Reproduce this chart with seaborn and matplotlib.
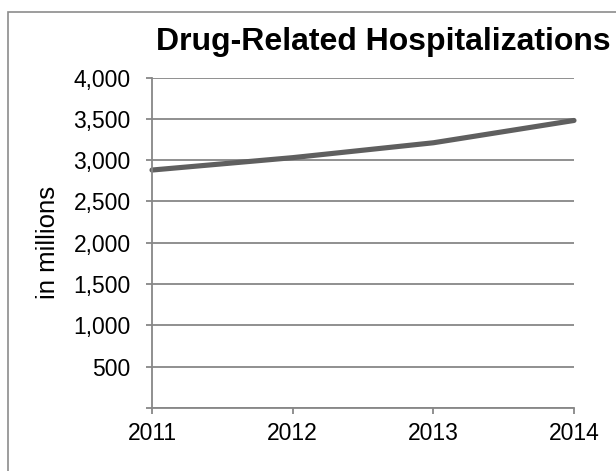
import matplotlib
matplotlib.use("Agg")
import matplotlib.pyplot as plt
import matplotlib.patches as mpatches
from matplotlib.ticker import FuncFormatter
import seaborn as sns
import pandas as pd

years = [2011, 2012, 2013, 2014]
hospitalizations = [2880, 3030, 3210, 3480]
yticks = [0, 500, 1000, 1500, 2000, 2500, 3000, 3500, 4000]

sns.set_theme(style="white")
plt.rcParams['font.family'] = ['Liberation Sans', 'DejaVu Sans']

df = pd.DataFrame({"year": years, "value": hospitalizations})

fig = plt.figure(figsize=(6.16, 4.71), dpi=100)
ax = fig.add_axes([152/616, 1-408/471, (574-152)/616, (408-77.5)/471])

sns.lineplot(data=df, x="year", y="value", ax=ax, color="#5f5f5f",
             linewidth=3.7, solid_capstyle="round")
for ln in ax.get_lines():
    ln.set_clip_on(False)

ax.set_xlim(2011, 2014)
ax.set_ylim(0, 4000)
ax.set_xticks(years)
ax.set_xticklabels([str(y) for y in years])
ax.set_yticks(yticks)
ax.yaxis.set_major_formatter(FuncFormatter(lambda v, p: "" if v == 0 else f"{int(v):,}"))
ax.grid(axis="y", color="#878787", linewidth=1.3)
ax.set_axisbelow(True)
for s in ["top", "right"]:
    ax.spines[s].set_visible(False)
for s in ["left", "bottom"]:
    ax.spines[s].set_color("#878787")
    ax.spines[s].set_linewidth(1.3)
ax.tick_params(axis="both", which="both", direction="out", length=4.3, width=1.3,
               color="#878787", labelsize=16.5, labelcolor="black",
               left=True, bottom=True)
ax.tick_params(axis="x", pad=6)
ax.tick_params(axis="y", pad=11)
ax.set_xlabel("")
ax.set_ylabel("in millions", fontsize=18.5, color="black")
ax.yaxis.set_label_coords(-0.218, 0.5)

fig.text(383.5/616, 1-50/471, "Drug-Related Hospitalizations", ha="center", va="baseline",
         fontsize=23, fontweight="bold", color="black")

border = mpatches.Rectangle((8/616, -0.2), 1.2, 1-11.5/471+0.2, transform=fig.transFigure,
                            fill=False, edgecolor="#8c8c8c", linewidth=1.2)
fig.patches.append(border)

fig.savefig("out.png", dpi=100)
